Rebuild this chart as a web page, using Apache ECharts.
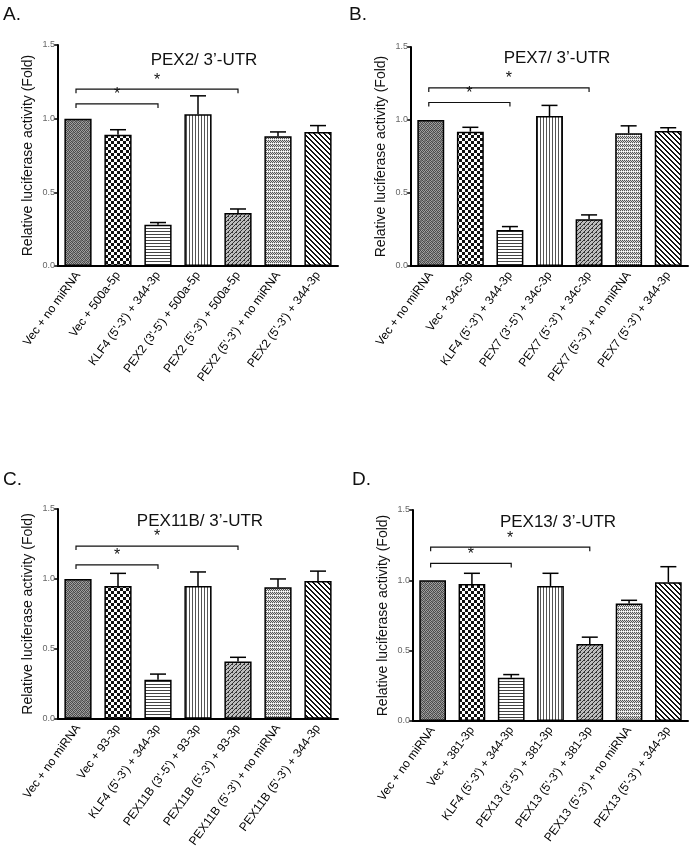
<!DOCTYPE html>
<html lang="en">
<head>
<meta charset="UTF-8">
<title>Luciferase</title>
<style>
  html, body { margin: 0; padding: 0; background: #fff; }
  #main { width: 690px; height: 850px; }
</style>
</head>
<body>
<div id="main"></div>
<script src="https://cdn.jsdelivr.net/npm/echarts@6/dist/echarts.min.js"></script>
<script>
// ---- data ----
var labelsA = ['Vec + no miRNA', 'Vec + 500a-5p', "KLF4 (5'-3') + 344-3p", "PEX2 (3'-5') + 500a-5p", "PEX2 (5'-3') + 500a-5p", "PEX2 (5'-3') + no miRNA", "PEX2 (5'-3') + 344-3p"];
var valuesA = [1.00, 0.89, 0.28, 1.03, 0.36, 0.88, 0.91];
var semA = [0, 0.035, 0.015, 0.125, 0.027, 0.03, 0.043];
var bracketsA = [[0, 4, 1.20], [0, 2, 1.10]];

var labelsB = ['Vec + no miRNA', 'Vec + 34c-3p', "KLF4 (5'-3') + 344-3p", "PEX7 (3'-5') + 34c-3p", "PEX7 (5'-3') + 34c-3p", "PEX7 (5'-3') + no miRNA", "PEX7 (5'-3') + 344-3p"];
var valuesB = [1.00, 0.92, 0.247, 1.027, 0.32, 0.91, 0.925];
var semB = [0, 0.03, 0.023, 0.073, 0.03, 0.05, 0.022];
var bracketsB = [[0, 4, 1.22], [0, 2, 1.12]];

var labelsC = ['Vec + no miRNA', 'Vec + 93-3p', "KLF4 (5'-3') + 344-3p", "PEX11B (3'-5') + 93-3p", "PEX11B (5'-3') + 93-3p", "PEX11B (5'-3') + no miRNA", "PEX11B (5'-3') + 344-3p"];
var valuesC = [1.00, 0.95, 0.28, 0.95, 0.41, 0.94, 0.986];
var semC = [0, 0.09, 0.04, 0.10, 0.03, 0.06, 0.07];
var bracketsC = [[0, 4, 1.235], [0, 2, 1.10]];

var labelsD = ['Vec + no miRNA', 'Vec + 381-3p', "KLF4 (5'-3') + 344-3p", "PEX13 (3'-5') + 381-3p", "PEX13 (5'-3') + 381-3p", "PEX13 (5'-3') + no miRNA", "PEX13 (5'-3') + 344-3p"];
var valuesD = [1.00, 0.974, 0.307, 0.96, 0.548, 0.835, 0.986];
var semD = [0, 0.076, 0.023, 0.09, 0.048, 0.023, 0.111];
var bracketsD = [[0, 4, 1.236], [0, 2, 1.12]];

var titles = ['PEX2/ 3’-UTR', 'PEX7/ 3’-UTR', 'PEX11B/ 3’-UTR', 'PEX13/ 3’-UTR'];
var letters = ['A.', 'B.', 'C.', 'D.'];
var yName = 'Relative luciferase activity (Fold)';

// ---- fill patterns (GraphPad style hatching) ----
function pattern(w, h, bg, draw) {
    var c = document.createElement('canvas');
    c.width = w; c.height = h;
    var ctx = c.getContext('2d');
    ctx.fillStyle = bg;
    ctx.fillRect(0, 0, w, h);
    draw(ctx);
    return { image: c, repeat: 'repeat' };
}
function px(ctx, col, pts) {
    ctx.fillStyle = col;
    pts.forEach(function (p) { ctx.fillRect(p[0], p[1], p[2] || 1, p[3] || 1); });
}
var fills = [
    // fine dark checker
    pattern(4, 4, '#a0a0a0', function (c) { px(c, '#4a4a4a', [[0,0],[2,0],[1,1],[3,1],[0,2],[2,2],[1,3],[3,3]]); px(c, '#707070', [[0,0,2,2]]); }),
    // coarse checker
    pattern(6, 6, '#fff', function (c) { px(c, '#111', [[0,0,3,3],[3,3,3,3]]); }),
    // horizontal lines
    pattern(4, 3, '#fff', function (c) { px(c, '#444', [[0,0,4,1]]); }),
    // vertical lines
    pattern(3, 4, '#fff', function (c) { px(c, '#555', [[0,0,1,4]]); }),
    // dense diagonal /
    pattern(4, 4, '#bdbdbd', function (c) { px(c, '#333', [[3,0],[2,1],[1,2],[0,3],[0,0]]); }),
    // light zigzag
    pattern(4, 4, '#d8d8d8', function (c) { px(c, '#555', [[0,0],[1,1],[2,0],[3,1],[0,2,1,1],[2,2]]); px(c, '#fff', [[1,3],[3,3]]); }),
    // bold diagonal \
    pattern(5, 5, '#fff', function (c) { px(c, '#111', [[0,0],[1,0],[1,1],[2,1],[2,2],[3,2],[3,3],[4,3],[4,4],[0,4]]); })
];

// ---- layout ----
var grids = [
    { left: 58, top: 45, width: 280, height: 221 },
    { left: 411, top: 47, width: 277, height: 219 },
    { left: 58, top: 509, width: 280, height: 213 },
    { left: 413, top: 510, width: 275, height: 211 }
];
var titlePos = [[204, 60], [557, 58], [200, 521], [558, 522]];
var letterPos = [[3, 5], [349, 5], [3, 470], [352, 470]];

var panels = [
    { labels: labelsA, values: valuesA, sem: semA, brackets: bracketsA },
    { labels: labelsB, values: valuesB, sem: semB, brackets: bracketsB },
    { labels: labelsC, values: valuesC, sem: semC, brackets: bracketsC },
    { labels: labelsD, values: valuesD, sem: semD, brackets: bracketsD }
];

var FONT = 'Liberation Sans, Arial, sans-serif';

function renderError(params, api) {
    var i = api.value(0), v = api.value(1), s = api.value(2);
    if (!s) return;
    var p0 = api.coord([i, v]);
    var p1 = api.coord([i, v + s]);
    var st = { stroke: '#000', lineWidth: 1.5 };
    return {
        type: 'group',
        children: [
            { type: 'line', shape: { x1: p0[0], y1: p0[1], x2: p1[0], y2: p1[1] }, style: st },
            { type: 'line', shape: { x1: p1[0] - 8, y1: p1[1], x2: p1[0] + 8, y2: p1[1] }, style: st }
        ]
    };
}

function renderBracket(params, api) {
    var y = api.value(2);
    var a = api.coord([api.value(0), y]);
    var b = api.coord([api.value(1), y]);
    a[0] -= 2;
    return {
        type: 'group',
        children: [
            { type: 'polyline', shape: { points: [[a[0], a[1] + 4], [a[0], a[1]], [b[0], b[1]], [b[0], b[1] + 4]] },
              style: { stroke: '#111', lineWidth: 1.2, fill: null } },
            { type: 'text', x: (a[0] + b[0]) / 2, y: a[1] - 1,
              style: { text: '*', font: '16px ' + FONT, fill: '#111', align: 'center', verticalAlign: 'bottom' } }
        ]
    };
}

var chart = echarts.init(document.getElementById('main'), null, { renderer: 'canvas' });

var option = {
    backgroundColor: '#fff',
    animation: false,
    grid: grids,
    xAxis: [],
    yAxis: [],
    series: [],
    graphic: []
};

panels.forEach(function (p, k) {
    option.xAxis.push({
        type: 'category',
        gridIndex: k,
        data: p.labels,
        axisLine: { lineStyle: { color: '#000', width: 2 } },
        axisTick: { alignWithLabel: true, length: 4, lineStyle: { color: '#000', width: 1.5 } },
        axisLabel: { interval: 0, rotate: 54, fontSize: 12, color: '#000', fontFamily: FONT, margin: 7 }
    });
    option.yAxis.push({
        type: 'value',
        gridIndex: k,
        min: 0, max: 1.5, interval: 0.5,
        name: yName,
        nameLocation: 'middle',
        nameGap: 23,
        nameTextStyle: { fontSize: 14, color: '#111', fontFamily: FONT },
        splitLine: { show: false },
        axisLine: { show: true, lineStyle: { color: '#000', width: 2 } },
        axisTick: { show: true, length: 4, lineStyle: { color: '#000', width: 1.5 } },
        axisLabel: { fontSize: 9, color: '#666', fontFamily: FONT, margin: 3,
            formatter: function (v) { return v.toFixed(1); } }
    });
    option.series.push({
        type: 'bar',
        xAxisIndex: k, yAxisIndex: k,
        barWidth: '68%',
        data: p.values.map(function (v, i) {
            return { value: v, itemStyle: { color: fills[i] } };
        }),
        itemStyle: { borderColor: '#000', borderWidth: 1.5 }
    });
    option.series.push({
        type: 'custom',
        xAxisIndex: k, yAxisIndex: k,
        renderItem: renderError,
        encode: { x: 0, y: 1 },
        data: p.values.map(function (v, i) { return [i, v, p.sem[i]]; }),
        z: 5
    });
    option.series.push({
        type: 'custom',
        xAxisIndex: k, yAxisIndex: k,
        renderItem: renderBracket,
        encode: { x: [0, 1], y: 2 },
        data: p.brackets,
        z: 5
    });
    option.graphic.push({
        type: 'text', x: titlePos[k][0], y: titlePos[k][1],
        style: { text: titles[k], font: '17px ' + FONT, fill: '#111', align: 'center', verticalAlign: 'middle' }
    });
    option.graphic.push({
        type: 'text', x: letterPos[k][0], y: letterPos[k][1],
        style: { text: letters[k], font: '19px ' + FONT, fill: '#111', align: 'left', verticalAlign: 'top' }
    });
});

chart.setOption(option);
</script>
</body>
</html>
